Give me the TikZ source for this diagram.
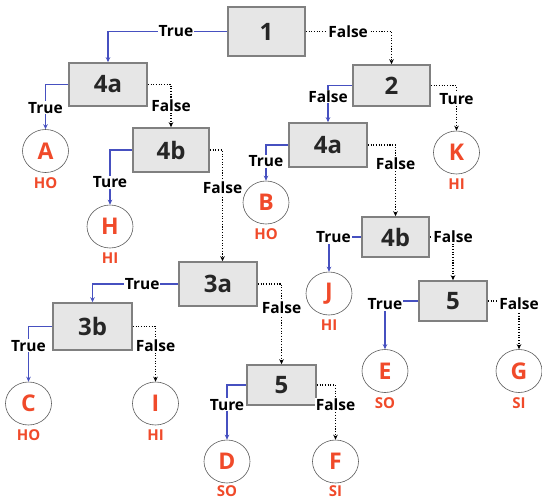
\documentclass[tikz,border=0pt]{standalone}
\usepackage{fontspec}
\setmainfont{Open Sans}
\usetikzlibrary{arrows.meta,shapes.geometric}
\definecolor{boxfill}{HTML}{E6E6E6}
\definecolor{boxline}{HTML}{808080}
\definecolor{tblue}{HTML}{4650C0}
\definecolor{tred}{HTML}{F04A2A}
\begin{document}
\begin{tikzpicture}[x=1pt,y=-1pt,
  box/.style={draw=boxline, fill=boxfill, line width=1.6pt, inner sep=0pt,
    font=\fontsize{24}{28}\selectfont\bfseries, text=black!85},
  leaf/.style={ellipse, draw=black!65, line width=0.6pt, minimum width=46pt,
    minimum height=43pt, inner sep=0pt, font=\fontsize{23}{26}\selectfont\bfseries, text=tred},
  sub/.style={font=\fontsize{15}{18}\selectfont\bfseries, text=tred, inner sep=0pt},
  lab/.style={fill=white, inner sep=1pt, font=\fontsize{15.5}{18}\selectfont\bfseries, text=black},
  yes/.style={draw=tblue, line width=1.3pt, -{Stealth[length=5pt,width=4.5pt]}},
  no/.style={draw=black, line width=1.1pt, dash pattern=on 1.1pt off 1.6pt, -{Stealth[length=5pt,width=4.5pt]}}]
\useasboundingbox (0,0) rectangle (542,499);
% boxes
\node[box, minimum width=77pt, minimum height=49pt] (n1) at (266.5,31.5) {1};
\node[box, minimum width=78pt, minimum height=43pt] (a4L) at (108,84.5) {4a};
\node[box, minimum width=77pt, minimum height=41pt] (n2) at (391.5,85.5) {2};
\node[box, minimum width=76pt, minimum height=44pt] (b4L) at (171,150) {4b};
\node[box, minimum width=78pt, minimum height=44pt] (a4R) at (328,145) {4a};
\node[box, minimum width=67pt, minimum height=40pt] (b4R) at (395.5,237) {4b};
\node[box, minimum width=68pt, minimum height=40pt] (r5) at (453,301) {5};
\node[box, minimum width=78pt, minimum height=44pt] (a3) at (218,284) {3a};
\node[box, minimum width=79pt, minimum height=47pt] (b3) at (92.5,326.5) {3b};
\node[box, minimum width=69pt, minimum height=40pt] (b5) at (281.5,385) {5};
% leaves
\node[leaf] (A) at (45.5,151) {A};
\node[leaf] (H) at (110,226.5) {H};
\node[leaf] (K) at (456.5,152.5) {K};
\node[leaf] (B) at (266,202.5) {B};
\node[leaf] (J) at (329,293.5) {J};
\node[leaf] (E) at (385,371) {E};
\node[leaf] (G) at (519,371) {G};
\node[leaf] (C) at (28.5,403.5) {C};
\node[leaf] (I) at (155.5,403.5) {I};
\node[leaf] (D) at (227,461.5) {D};
\node[leaf] (F) at (335.5,461.5) {F};
% sub labels
\node[sub] (sA) at (45.5,183) {HO};
\node[sub] (sH) at (110,258.5) {HI};
\node[sub] (sK) at (456.5,184.5) {HI};
\node[sub] (sB) at (266,234.5) {HO};
\node[sub] (sJ) at (329,325.5) {HI};
\node[sub] (sE) at (385,403) {SO};
\node[sub] (sG) at (519,403) {SI};
\node[sub] (sC) at (28.5,435.5) {HO};
\node[sub] (sI) at (155.5,435.5) {HI};
\node[sub] (sD) at (227,491.5) {SO};
\node[sub] (sF) at (335.5,491.5) {SI};
% connectors
\draw[yes] (n1.west) -| (a4L.north) node[lab, pos=0.215] {True};
\draw[no] (n1.east) -| (n2.north) node[lab, pos=0.247] {False};
\draw[yes] (a4L.west) -| (A.north) node[lab, pos=0.76] {True};
\draw[no] (a4L.east) -| (b4L.north) node[lab, pos=0.75] {False};
\draw[yes] (n2.west) -| (a4R.north) node[lab, pos=0.65] {False};
\draw[no] (n2.east) -| (K.north) node[lab, pos=0.65] {Ture};
\draw[yes] (b4L.west) -| (H.north) node[lab, pos=0.795] {Ture};
\draw[no] (b4L.east) -| ([xshift=4.5pt]a3.north) node[lab, pos=0.67] {False};
\draw[yes] (a4R.west) -| (B.north) node[lab, pos=0.73] {True};
\draw[no] (a4R.east) -| (b4R.north) node[lab, pos=0.63] {False};
\draw[yes] (b4R.west) -| (J.north) node[lab, pos=0.5, xshift=4.5pt] {True};
\draw[no] (b4R.east) -| (r5.north) node[lab, pos=0.5] {False};
\draw[yes] (r5.west) -| (E.north) node[lab, pos=0.5, yshift=-3pt] {True};
\draw[no] (r5.east) -| (G.north) node[lab, pos=0.5, yshift=-3pt] {False};
\draw[yes] (a3.west) -| (b3.north) node[lab, pos=0.21] {True};
\draw[no] (a3.east) -| (b5.north) node[lab, pos=0.65] {False};
\draw[yes] (b3.west) -| (C.north) node[lab, pos=0.675] {True};
\draw[no] (b3.east) -| (I.north) node[lab, pos=0.675] {False};
\draw[yes] (b5.west) -| (D.north) node[lab, pos=0.68] {Ture};
\draw[no] (b5.east) -| (F.north) node[lab, pos=0.68] {False};
\end{tikzpicture}
\end{document}
